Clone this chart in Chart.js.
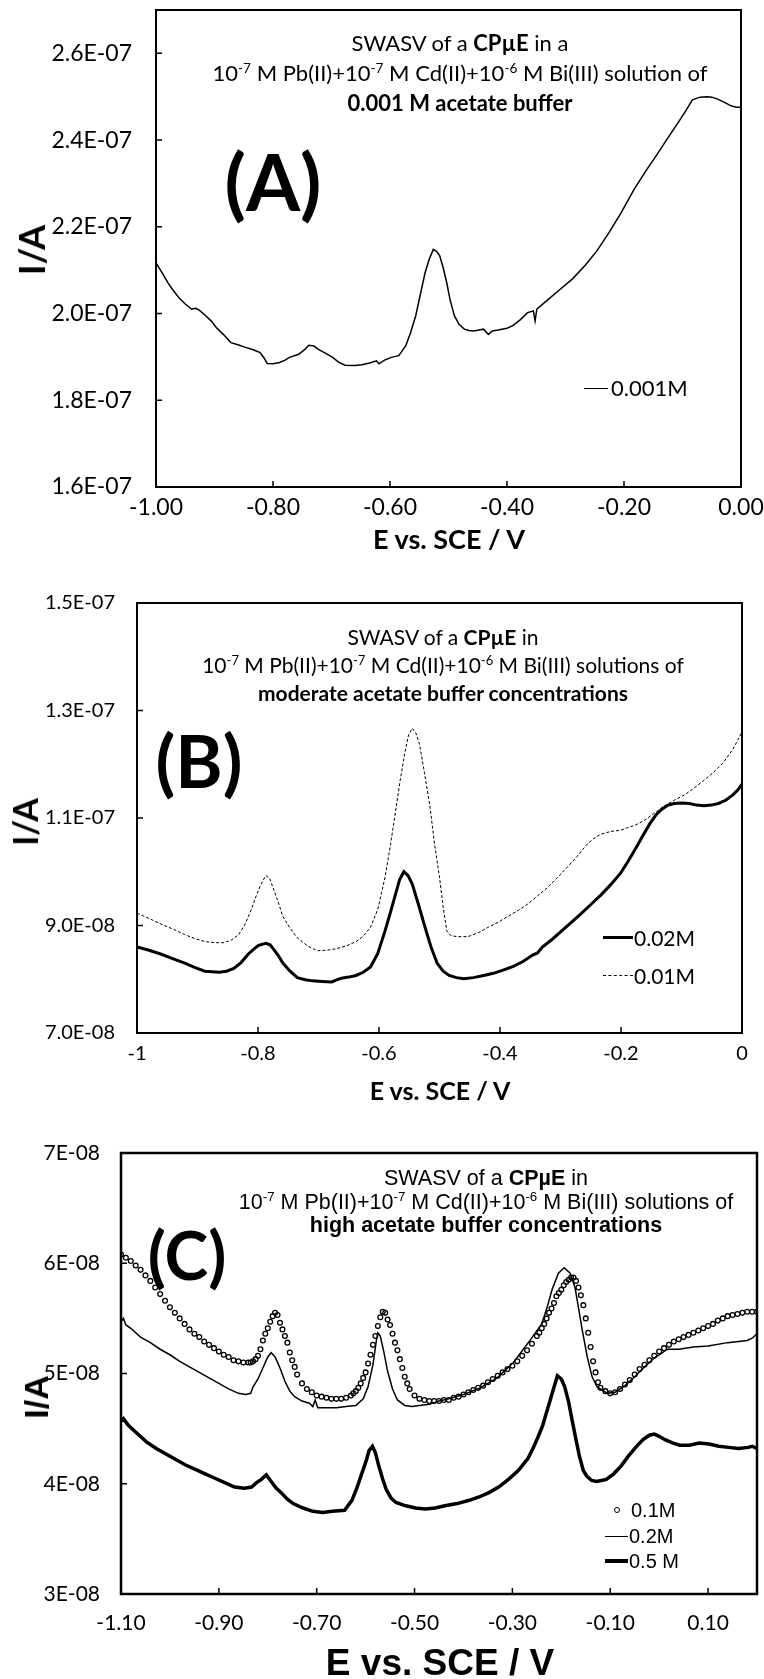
<!DOCTYPE html>
<html>
<head>
<meta charset="utf-8">
<script src="https://cdn.jsdelivr.net/npm/chart.js@4.4.1/dist/chart.umd.min.js"></script>
<style>
  body { margin: 0; background: #fff; }
  #page { position: relative; width: 764px; height: 1679px; overflow: hidden; background: #fff; }
  canvas { position: absolute; left: 0; }
  .t { position: absolute; color: #000; white-space: nowrap; line-height: 1; transform: translate(-50%, -50%); }
  .l { position: absolute; color: #000; white-space: nowrap; line-height: 1; transform: translateY(-50%); }
  .rot { transform: translate(-50%, -50%) rotate(-90deg); }
  .note { position: absolute; color: #000; white-space: nowrap; text-align: center; transform: translateX(-50%); }
  .note sup { font-size: 62%; line-height: 0; vertical-align: 0.6em; }
  .cal { font-family: Lato, "Noto Sans", sans-serif; }
  .ari { font-family: "Liberation Sans", Arial, sans-serif; }
  .sw { position: absolute; border-top: 1.5px solid #000; }
</style>
</head>
<body>
<div id="page">
  <canvas id="chartA" width="764" height="560" style="top:0"></canvas>
  <canvas id="chartB" width="764" height="560" style="top:560px"></canvas>
  <canvas id="chartC" width="764" height="559" style="top:1120px"></canvas>

  <!-- panel A -->
  <div class="note cal" style="left:460px; top:28px; font-size:22px; line-height:30px">
    SWASV of a <b>CPµE</b> in a<br>
    10<sup>-7</sup> M Pb(II)+10<sup>-7</sup> M Cd(II)+10<sup>-6</sup> M Bi(III) solution of<br>
    <b>0.001 M acetate buffer</b>
  </div>
  <div class="t cal" style="left:273px; top:181px; font-size:78px; font-weight:bold">(A)</div>
  <div class="t cal rot" style="left:31px; top:250px; font-size:36px; font-weight:bold">I/A</div>
  <div class="t cal" style="left:449px; top:538px; font-size:27px; font-weight:bold">E vs. SCE / V</div>
  <div class="sw" style="left:584px; top:388px; width:24px"></div>
  <div class="l cal" style="left:611px; top:388px; font-size:22px">0.001M</div>

  <!-- panel B -->
  <div class="note cal" style="left:443px; top:623px; font-size:21px; line-height:28px">
    SWASV of a <b>CPµE</b> in<br>
    10<sup>-7</sup> M Pb(II)+10<sup>-7</sup> M Cd(II)+10<sup>-6</sup> M Bi(III) solutions of<br>
    <b>moderate acetate buffer concentrations</b>
  </div>
  <div class="t cal" style="left:199px; top:760px; font-size:72px; font-weight:bold">(B)</div>
  <div class="t cal rot" style="left:25px; top:822px; font-size:34px; font-weight:bold">I/A</div>
  <div class="t cal" style="left:440px; top:1090px; font-size:25px; font-weight:bold">E vs. SCE / V</div>
  <div class="sw" style="left:603px; top:936px; width:30px; border-top-width:3px"></div>
  <div class="l cal" style="left:634px; top:937px; font-size:21px">0.02M</div>
  <div class="sw" style="left:603px; top:975px; width:30px; border-top:1px dashed #000"></div>
  <div class="l cal" style="left:634px; top:975px; font-size:21px">0.01M</div>

  <!-- panel C -->
  <div class="note ari" style="left:486px; top:1167px; font-size:21.5px; line-height:23.5px">
    SWASV of a <b>CPµE</b> in<br>
    10<sup>-7</sup> M Pb(II)+10<sup>-7</sup> M Cd(II)+10<sup>-6</sup> M Bi(III) solutions of<br>
    <b>high acetate buffer concentrations</b>
  </div>
  <div class="t cal" style="left:187px; top:1255px; font-size:66px; font-weight:bold">(C)</div>
  <div class="t ari rot" style="left:36px; top:1397px; font-size:34px; font-weight:bold">I/A</div>
  <div class="t ari" style="left:440px; top:1662px; font-size:37px; font-weight:bold">E vs. SCE / V</div>
  <div style="position:absolute; left:614px; top:1507px; width:4px; height:4px; border:1.2px solid #000; border-radius:50%"></div>
  <div class="l ari" style="left:631px; top:1510px; font-size:20px">0.1M</div>
  <div class="sw" style="left:605px; top:1536px; width:23px"></div>
  <div class="l ari" style="left:629px; top:1536px; font-size:20px">0.2M</div>
  <div class="sw" style="left:605px; top:1559px; width:23px; border-top-width:4px"></div>
  <div class="l ari" style="left:629px; top:1561px; font-size:20px">0.5 M</div>
</div>

<script>
// ---- (A) 0.001 M acetate buffer ----
const potA = [-1.000, -0.990, -0.980, -0.972, -0.960, -0.950, -0.939, -0.932, -0.926, -0.915,
  -0.905, -0.897, -0.885, -0.872, -0.860, -0.847, -0.835, -0.822, -0.815, -0.810,
  -0.800, -0.789, -0.780, -0.772, -0.756, -0.745, -0.739, -0.730, -0.723, -0.710,
  -0.698, -0.688, -0.677, -0.660, -0.648, -0.635, -0.623, -0.619, -0.610, -0.598,
  -0.585, -0.573, -0.565, -0.556, -0.548, -0.540, -0.533, -0.526, -0.520, -0.515,
  -0.509, -0.503, -0.497, -0.490, -0.482, -0.473, -0.465, -0.457, -0.448, -0.440,
  -0.436, -0.432, -0.425, -0.415, -0.400, -0.390, -0.377, -0.365, -0.358, -0.355,
  -0.352, -0.349, -0.330, -0.309, -0.288, -0.267, -0.246, -0.226, -0.205, -0.183,
  -0.162, -0.142, -0.125, -0.108, -0.095, -0.083, -0.070, -0.058, -0.050, -0.041,
  -0.030, -0.017, -0.008, 0.000];
const curA = [2.117e-7, 2.095e-7, 2.072e-7, 2.056e-7, 2.035e-7, 2.022e-7, 2.010e-7, 2.012e-7, 2.008e-7, 1.995e-7,
  1.982e-7, 1.968e-7, 1.952e-7, 1.933e-7, 1.928e-7, 1.922e-7, 1.917e-7, 1.910e-7, 1.897e-7, 1.885e-7,
  1.884e-7, 1.887e-7, 1.892e-7, 1.899e-7, 1.906e-7, 1.918e-7, 1.927e-7, 1.925e-7, 1.918e-7, 1.908e-7,
  1.899e-7, 1.888e-7, 1.881e-7, 1.880e-7, 1.882e-7, 1.886e-7, 1.891e-7, 1.884e-7, 1.892e-7, 1.899e-7,
  1.903e-7, 1.926e-7, 1.955e-7, 1.995e-7, 2.045e-7, 2.094e-7, 2.125e-7, 2.148e-7, 2.143e-7, 2.133e-7,
  2.105e-7, 2.071e-7, 2.030e-7, 1.995e-7, 1.975e-7, 1.964e-7, 1.961e-7, 1.960e-7, 1.962e-7, 1.964e-7,
  1.958e-7, 1.952e-7, 1.960e-7, 1.962e-7, 1.966e-7, 1.972e-7, 1.986e-7, 2.002e-7, 2.005e-7, 2.006e-7,
  1.983e-7, 2.010e-7, 2.032e-7, 2.056e-7, 2.080e-7, 2.110e-7, 2.145e-7, 2.186e-7, 2.232e-7, 2.286e-7,
  2.330e-7, 2.370e-7, 2.405e-7, 2.439e-7, 2.466e-7, 2.493e-7, 2.499e-7, 2.500e-7, 2.499e-7, 2.495e-7,
  2.488e-7, 2.479e-7, 2.476e-7, 2.476e-7];

// ---- (B) 0.02 M and 0.01 M ----
const potB002 = [-1.000, -0.980, -0.961, -0.940, -0.921, -0.905, -0.888, -0.864, -0.852, -0.840,
  -0.828, -0.816, -0.806, -0.799, -0.787, -0.780, -0.775, -0.767, -0.759, -0.747,
  -0.735, -0.722, -0.710, -0.694, -0.678, -0.670, -0.662, -0.650, -0.638, -0.626,
  -0.614, -0.602, -0.590, -0.581, -0.573, -0.566, -0.559, -0.552, -0.545, -0.535,
  -0.524, -0.514, -0.504, -0.494, -0.484, -0.472, -0.460, -0.444, -0.427, -0.411,
  -0.395, -0.378, -0.362, -0.346, -0.338, -0.330, -0.314, -0.298, -0.282, -0.265,
  -0.249, -0.233, -0.217, -0.201, -0.189, -0.176, -0.164, -0.152, -0.142, -0.132,
  -0.122, -0.112, -0.100, -0.087, -0.075, -0.063, -0.051, -0.039, -0.027, -0.015,
  -0.007, 0.000];
const curB002 = [8.60e-8, 8.54e-8, 8.47e-8, 8.38e-8, 8.30e-8, 8.22e-8, 8.15e-8, 8.13e-8, 8.15e-8, 8.20e-8,
  8.31e-8, 8.47e-8, 8.57e-8, 8.63e-8, 8.67e-8, 8.64e-8, 8.57e-8, 8.45e-8, 8.30e-8, 8.15e-8,
  8.03e-8, 7.99e-8, 7.97e-8, 7.96e-8, 7.95e-8, 7.99e-8, 8.02e-8, 8.04e-8, 8.07e-8, 8.13e-8,
  8.23e-8, 8.48e-8, 8.90e-8, 9.25e-8, 9.57e-8, 9.85e-8, 10.00e-8, 9.93e-8, 9.77e-8, 9.40e-8,
  8.97e-8, 8.60e-8, 8.30e-8, 8.15e-8, 8.07e-8, 8.03e-8, 8.01e-8, 8.03e-8, 8.07e-8, 8.11e-8,
  8.17e-8, 8.24e-8, 8.33e-8, 8.45e-8, 8.49e-8, 8.60e-8, 8.74e-8, 8.90e-8, 9.06e-8, 9.23e-8,
  9.40e-8, 9.57e-8, 9.76e-8, 9.97e-8, 10.18e-8, 10.43e-8, 10.67e-8, 10.90e-8, 11.06e-8, 11.17e-8,
  11.24e-8, 11.27e-8, 11.28e-8, 11.27e-8, 11.24e-8, 11.23e-8, 11.24e-8, 11.27e-8, 11.33e-8, 11.43e-8,
  11.52e-8, 11.63e-8];
const potB001 = [-1.000, -0.980, -0.961, -0.940, -0.921, -0.905, -0.888, -0.870, -0.856, -0.844,
  -0.832, -0.821, -0.811, -0.803, -0.795, -0.787, -0.781, -0.775, -0.767, -0.759,
  -0.747, -0.735, -0.718, -0.702, -0.686, -0.670, -0.654, -0.638, -0.626, -0.614,
  -0.602, -0.590, -0.581, -0.573, -0.565, -0.557, -0.551, -0.545, -0.539, -0.533,
  -0.525, -0.516, -0.508, -0.500, -0.494, -0.488, -0.482, -0.476, -0.463, -0.451,
  -0.435, -0.419, -0.403, -0.387, -0.370, -0.354, -0.338, -0.322, -0.306, -0.290,
  -0.273, -0.257, -0.245, -0.233, -0.217, -0.201, -0.189, -0.176, -0.164, -0.152,
  -0.140, -0.128, -0.112, -0.095, -0.079, -0.063, -0.047, -0.031, -0.015, 0.000];
const curB001 = [9.23e-8, 9.13e-8, 9.03e-8, 8.93e-8, 8.83e-8, 8.76e-8, 8.70e-8, 8.68e-8, 8.68e-8, 8.73e-8,
  8.83e-8, 9.03e-8, 9.30e-8, 9.55e-8, 9.77e-8, 9.93e-8, 9.88e-8, 9.70e-8, 9.45e-8, 9.17e-8,
  8.95e-8, 8.77e-8, 8.62e-8, 8.53e-8, 8.54e-8, 8.57e-8, 8.62e-8, 8.70e-8, 8.80e-8, 8.97e-8,
  9.30e-8, 9.90e-8, 10.50e-8, 11.10e-8, 11.70e-8, 12.23e-8, 12.55e-8, 12.67e-8, 12.58e-8, 12.37e-8,
  11.85e-8, 11.23e-8, 10.50e-8, 9.90e-8, 9.35e-8, 8.90e-8, 8.82e-8, 8.80e-8, 8.79e-8, 8.80e-8,
  8.87e-8, 8.97e-8, 9.06e-8, 9.17e-8, 9.28e-8, 9.40e-8, 9.55e-8, 9.70e-8, 9.88e-8, 10.07e-8,
  10.28e-8, 10.50e-8, 10.62e-8, 10.70e-8, 10.75e-8, 10.77e-8, 10.82e-8, 10.87e-8, 10.94e-8, 11.03e-8,
  11.13e-8, 11.23e-8, 11.33e-8, 11.43e-8, 11.56e-8, 11.70e-8, 11.85e-8, 12.03e-8, 12.28e-8, 12.60e-8];

// ---- (C) 0.1 M (markers), 0.2 M, 0.5 M ----
const potC01 = [-1.10, -1.09, -1.08, -1.07, -1.06, -1.05, -1.04, -1.03, -1.02, -1.01,
  -1.00, -0.99, -0.98, -0.97, -0.96, -0.95, -0.94, -0.93, -0.92, -0.91,
  -0.90, -0.89, -0.88, -0.87, -0.86, -0.85, -0.84, -0.835, -0.83, -0.825,
  -0.82, -0.815, -0.81, -0.805, -0.80, -0.795, -0.79, -0.785, -0.78, -0.775,
  -0.77, -0.765, -0.76, -0.755, -0.75, -0.745, -0.74, -0.73, -0.72, -0.71,
  -0.70, -0.69, -0.68, -0.67, -0.66, -0.65, -0.64, -0.63, -0.625, -0.62,
  -0.615, -0.61, -0.605, -0.60, -0.595, -0.59, -0.585, -0.58, -0.575, -0.57,
  -0.565, -0.56, -0.555, -0.55, -0.545, -0.54, -0.535, -0.53, -0.525, -0.52,
  -0.515, -0.51, -0.50, -0.49, -0.48, -0.47, -0.46, -0.45, -0.44, -0.43,
  -0.42, -0.41, -0.40, -0.39, -0.38, -0.37, -0.36, -0.35, -0.34, -0.33,
  -0.32, -0.31, -0.30, -0.29, -0.28, -0.27, -0.26, -0.25, -0.245, -0.24,
  -0.235, -0.23, -0.225, -0.22, -0.215, -0.21, -0.205, -0.20, -0.195, -0.19,
  -0.185, -0.18, -0.175, -0.17, -0.165, -0.16, -0.155, -0.15, -0.145, -0.14,
  -0.135, -0.13, -0.125, -0.12, -0.11, -0.10, -0.09, -0.08, -0.07, -0.06,
  -0.05, -0.04, -0.03, -0.02, -0.01, 0.00, 0.01, 0.02, 0.03, 0.04,
  0.05, 0.06, 0.07, 0.08, 0.09, 0.10, 0.11, 0.12, 0.13, 0.14,
  0.15, 0.16, 0.17, 0.18, 0.19, 0.20];
const curC01 = [6.08e-8, 6.05e-8, 6.02e-8, 5.98e-8, 5.94e-8, 5.89e-8, 5.84e-8, 5.78e-8, 5.72e-8, 5.66e-8,
  5.60e-8, 5.55e-8, 5.50e-8, 5.45e-8, 5.40e-8, 5.36e-8, 5.33e-8, 5.29e-8, 5.26e-8, 5.23e-8,
  5.20e-8, 5.17e-8, 5.15e-8, 5.12e-8, 5.11e-8, 5.10e-8, 5.10e-8, 5.10e-8, 5.11e-8, 5.13e-8,
  5.16e-8, 5.22e-8, 5.30e-8, 5.36e-8, 5.41e-8, 5.47e-8, 5.52e-8, 5.55e-8, 5.53e-8, 5.46e-8,
  5.40e-8, 5.34e-8, 5.28e-8, 5.19e-8, 5.12e-8, 5.06e-8, 4.99e-8, 4.91e-8, 4.86e-8, 4.83e-8,
  4.80e-8, 4.79e-8, 4.78e-8, 4.77e-8, 4.77e-8, 4.77e-8, 4.78e-8, 4.80e-8, 4.82e-8, 4.84e-8,
  4.87e-8, 4.91e-8, 4.96e-8, 5.01e-8, 5.09e-8, 5.17e-8, 5.26e-8, 5.34e-8, 5.43e-8, 5.51e-8,
  5.56e-8, 5.55e-8, 5.49e-8, 5.44e-8, 5.36e-8, 5.28e-8, 5.21e-8, 5.13e-8, 5.05e-8, 4.97e-8,
  4.91e-8, 4.86e-8, 4.80e-8, 4.77e-8, 4.76e-8, 4.75e-8, 4.75e-8, 4.75e-8, 4.76e-8, 4.76e-8,
  4.78e-8, 4.79e-8, 4.81e-8, 4.83e-8, 4.85e-8, 4.87e-8, 4.89e-8, 4.92e-8, 4.95e-8, 4.98e-8,
  5.01e-8, 5.04e-8, 5.07e-8, 5.11e-8, 5.16e-8, 5.21e-8, 5.27e-8, 5.34e-8, 5.37e-8, 5.41e-8,
  5.45e-8, 5.50e-8, 5.55e-8, 5.59e-8, 5.64e-8, 5.70e-8, 5.73e-8, 5.76e-8, 5.80e-8, 5.83e-8,
  5.85e-8, 5.87e-8, 5.87e-8, 5.84e-8, 5.78e-8, 5.71e-8, 5.62e-8, 5.50e-8, 5.37e-8, 5.24e-8,
  5.11e-8, 5.01e-8, 4.92e-8, 4.87e-8, 4.84e-8, 4.82e-8, 4.83e-8, 4.86e-8, 4.90e-8, 4.94e-8,
  4.99e-8, 5.04e-8, 5.08e-8, 5.12e-8, 5.16e-8, 5.20e-8, 5.23e-8, 5.26e-8, 5.29e-8, 5.31e-8,
  5.33e-8, 5.35e-8, 5.37e-8, 5.39e-8, 5.41e-8, 5.43e-8, 5.45e-8, 5.48e-8, 5.50e-8, 5.52e-8,
  5.53e-8, 5.54e-8, 5.55e-8, 5.56e-8, 5.56e-8, 5.56e-8];
const potC02 = [-1.100, -1.095, -1.090, -1.080, -1.060, -1.040, -1.020, -1.000, -0.980, -0.960,
  -0.940, -0.920, -0.900, -0.880, -0.860, -0.845, -0.835, -0.830, -0.820, -0.810,
  -0.800, -0.793, -0.785, -0.775, -0.765, -0.755, -0.745, -0.730, -0.715, -0.708,
  -0.703, -0.698, -0.680, -0.660, -0.640, -0.620, -0.605, -0.595, -0.585, -0.578,
  -0.575, -0.570, -0.563, -0.555, -0.545, -0.535, -0.520, -0.505, -0.490, -0.470,
  -0.450, -0.430, -0.400, -0.366, -0.331, -0.298, -0.264, -0.240, -0.229, -0.219,
  -0.206, -0.194, -0.182, -0.172, -0.165, -0.157, -0.147, -0.137, -0.127, -0.106,
  -0.090, -0.070, -0.050, -0.030, -0.010, 0.017, 0.040, 0.070, 0.100, 0.140,
  0.180, 0.190, 0.200];
const curC02 = [5.47e-8, 5.50e-8, 5.44e-8, 5.41e-8, 5.33e-8, 5.28e-8, 5.22e-8, 5.17e-8, 5.11e-8, 5.06e-8,
  5.01e-8, 4.96e-8, 4.91e-8, 4.86e-8, 4.82e-8, 4.81e-8, 4.82e-8, 4.88e-8, 4.95e-8, 5.05e-8,
  5.15e-8, 5.19e-8, 5.15e-8, 5.05e-8, 4.93e-8, 4.84e-8, 4.79e-8, 4.75e-8, 4.73e-8, 4.70e-8,
  4.76e-8, 4.69e-8, 4.69e-8, 4.69e-8, 4.70e-8, 4.71e-8, 4.77e-8, 4.88e-8, 5.08e-8, 5.30e-8,
  5.37e-8, 5.34e-8, 5.20e-8, 5.02e-8, 4.86e-8, 4.76e-8, 4.71e-8, 4.70e-8, 4.71e-8, 4.72e-8,
  4.75e-8, 4.77e-8, 4.81e-8, 4.87e-8, 4.96e-8, 5.10e-8, 5.30e-8, 5.45e-8, 5.60e-8, 5.76e-8,
  5.91e-8, 5.96e-8, 5.91e-8, 5.78e-8, 5.60e-8, 5.39e-8, 5.15e-8, 4.97e-8, 4.88e-8, 4.82e-8,
  4.83e-8, 4.89e-8, 4.97e-8, 5.06e-8, 5.14e-8, 5.22e-8, 5.22e-8, 5.24e-8, 5.25e-8, 5.28e-8,
  5.30e-8, 5.32e-8, 5.36e-8];
const potC05 = [-1.100, -1.095, -1.085, -1.068, -1.048, -1.028, -1.008, -0.988, -0.968, -0.948,
  -0.928, -0.908, -0.888, -0.868, -0.848, -0.833, -0.823, -0.813, -0.803, -0.793,
  -0.783, -0.773, -0.760, -0.748, -0.728, -0.708, -0.688, -0.668, -0.643, -0.628,
  -0.618, -0.608, -0.598, -0.593, -0.586, -0.580, -0.573, -0.565, -0.558, -0.548,
  -0.538, -0.518, -0.498, -0.478, -0.458, -0.438, -0.413, -0.388, -0.368, -0.348,
  -0.328, -0.308, -0.288, -0.268, -0.258, -0.248, -0.238, -0.228, -0.218, -0.208,
  -0.200, -0.193, -0.185, -0.178, -0.170, -0.163, -0.155, -0.148, -0.138, -0.128,
  -0.118, -0.108, -0.093, -0.078, -0.063, -0.048, -0.033, -0.020, -0.010, 0.000,
  0.012, 0.027, 0.042, 0.062, 0.082, 0.102, 0.122, 0.142, 0.162, 0.182,
  0.190, 0.200];
const curC05 = [4.57e-8, 4.59e-8, 4.53e-8, 4.46e-8, 4.38e-8, 4.32e-8, 4.27e-8, 4.22e-8, 4.17e-8, 4.13e-8,
  4.09e-8, 4.05e-8, 4.01e-8, 3.97e-8, 3.96e-8, 3.97e-8, 4.01e-8, 4.04e-8, 4.08e-8, 4.02e-8,
  3.96e-8, 3.92e-8, 3.86e-8, 3.82e-8, 3.78e-8, 3.75e-8, 3.74e-8, 3.75e-8, 3.76e-8, 3.85e-8,
  3.96e-8, 4.09e-8, 4.22e-8, 4.30e-8, 4.34e-8, 4.28e-8, 4.16e-8, 4.04e-8, 3.95e-8, 3.87e-8,
  3.83e-8, 3.80e-8, 3.78e-8, 3.77e-8, 3.78e-8, 3.80e-8, 3.82e-8, 3.85e-8, 3.88e-8, 3.92e-8,
  3.97e-8, 4.04e-8, 4.12e-8, 4.23e-8, 4.32e-8, 4.42e-8, 4.53e-8, 4.68e-8, 4.83e-8, 4.98e-8,
  4.95e-8, 4.88e-8, 4.74e-8, 4.58e-8, 4.40e-8, 4.25e-8, 4.12e-8, 4.07e-8, 4.03e-8, 4.02e-8,
  4.03e-8, 4.04e-8, 4.09e-8, 4.16e-8, 4.25e-8, 4.33e-8, 4.40e-8, 4.44e-8, 4.45e-8, 4.43e-8,
  4.40e-8, 4.37e-8, 4.35e-8, 4.35e-8, 4.37e-8, 4.36e-8, 4.34e-8, 4.33e-8, 4.32e-8, 4.33e-8,
  4.34e-8, 4.32e-8];

// ---- axis ticks ----
const xTicksA = [-1.0, -0.8, -0.6, -0.4, -0.2, 0.0];
const xLabelsA = ['-1.00', '-0.80', '-0.60', '-0.40', '-0.20', '0.00'];
const yTicksA = [1.6e-7, 1.8e-7, 2.0e-7, 2.2e-7, 2.4e-7, 2.6e-7];
const yLabelsA = ['1.6E-07', '1.8E-07', '2.0E-07', '2.2E-07', '2.4E-07', '2.6E-07'];
const xTicksB = [-1.0, -0.8, -0.6, -0.4, -0.2, 0.0];
const xLabelsB = ['-1', '-0.8', '-0.6', '-0.4', '-0.2', '0'];
const yTicksB = [7e-8, 9e-8, 1.1e-7, 1.3e-7, 1.5e-7];
const yLabelsB = ['7.0E-08', '9.0E-08', '1.1E-07', '1.3E-07', '1.5E-07'];
const xTicksC = [-1.1, -0.9, -0.7, -0.5, -0.3, -0.1, 0.1];
const xLabelsC = ['-1.10', '-0.90', '-0.70', '-0.50', '-0.30', '-0.10', '0.10'];
const yTicksC = [3e-8, 4e-8, 5e-8, 6e-8, 7e-8];
const yLabelsC = ['3E-08', '4E-08', '5E-08', '6E-08', '7E-08'];

Chart.defaults.font.family = 'Lato';
Chart.defaults.color = '#000';

const pts = (xs, ys) => xs.map((x, i) => ({ x: x, y: ys[i] }));
const line = (label, xs, ys, w, dash) => ({
  label: label, data: pts(xs, ys), showLine: true, pointRadius: 0,
  borderColor: '#000', borderWidth: w, borderDash: dash || [], tension: 0
});

// box round the plot + short inward tick marks
const framePlugin = {
  id: 'frame',
  afterDatasetsDraw(chart, args, opts) {
    const { ctx, chartArea: a, scales } = chart;
    ctx.save();
    ctx.strokeStyle = '#000';
    ctx.lineWidth = opts.width;
    ctx.strokeRect(a.left, a.top, a.right - a.left, a.bottom - a.top);
    ctx.lineWidth = 1.5;
    ctx.beginPath();
    scales.x.ticks.forEach(t => {
      const px = scales.x.getPixelForValue(t.value);
      ctx.moveTo(px, a.bottom);
      ctx.lineTo(px, a.bottom - 6);
    });
    scales.y.ticks.forEach(t => {
      const py = scales.y.getPixelForValue(t.value);
      ctx.moveTo(a.left, py);
      ctx.lineTo(a.left + 6, py);
    });
    ctx.stroke();
    ctx.restore();
  }
};

// fixed axis boxes, no extra label overflow padding, so the plot area lands where we want
function fixBox(prop, size) {
  return s => {
    s[prop] = size;
    s.paddingTop = s.paddingBottom = s.paddingLeft = s.paddingRight = 0;
  };
}

function makePanel(id, p) {
  return new Chart(document.getElementById(id), {
    type: 'scatter',
    data: { datasets: p.sets },
    options: {
      responsive: false,
      animation: false,
      devicePixelRatio: 1,
      layout: { padding: { left: 0, right: p.right, top: p.top, bottom: 0 } },
      plugins: { legend: { display: false }, tooltip: { enabled: false }, frame: { width: p.frame } },
      scales: {
        x: {
          type: 'linear', min: p.xMin, max: p.xMax,
          afterBuildTicks: s => { s.ticks = p.xTicks.map(v => ({ value: v })); },
          afterFit: fixBox('height', p.xH),
          grid: { display: false, drawTicks: false },
          border: { display: false },
          ticks: { autoSkip: false, maxRotation: 0, padding: p.xPad, font: { size: p.font }, callback: (v, i) => p.xLabels[i] }
        },
        y: {
          type: 'linear', min: p.yMin, max: p.yMax,
          afterBuildTicks: s => { s.ticks = p.yTicks.map(v => ({ value: v })); },
          afterFit: fixBox('width', p.left),
          grid: { display: false, drawTicks: false },
          border: { display: false },
          ticks: { autoSkip: false, padding: p.yPad, font: { size: p.font }, callback: (v, i) => p.yLabels[i] }
        }
      }
    },
    plugins: [framePlugin]
  });
}

makePanel('chartA', {
  sets: [line('0.001M', potA, curA, 1.5)],
  xMin: -1, xMax: 0, yMin: 1.6e-7, yMax: 2.7e-7,
  xTicks: xTicksA, xLabels: xLabelsA, yTicks: yTicksA, yLabels: yLabelsA,
  left: 156, right: 23, top: 10, xH: 73, xPad: 7, yPad: 24, font: 23, frame: 2
});

makePanel('chartB', {
  sets: [line('0.02M', potB002, curB002, 3), line('0.01M', potB001, curB001, 1, [3, 2])],
  xMin: -1, xMax: 0, yMin: 7e-8, yMax: 1.5e-7,
  xTicks: xTicksB, xLabels: xLabelsB, yTicks: yTicksB, yLabels: yLabelsB,
  left: 137, right: 22, top: 43, xH: 87, xPad: 9, yPad: 22, font: 20, frame: 2
});

makePanel('chartC', {
  sets: [
    { label: '0.1M', data: pts(potC01, curC01), showLine: false, pointStyle: 'circle',
      pointRadius: 2.4, pointBorderWidth: 1.3, pointBorderColor: '#000', pointBackgroundColor: 'rgba(0,0,0,0)' },
    line('0.2M', potC02, curC02, 1.5),
    line('0.5 M', potC05, curC05, 3.5)
  ],
  xMin: -1.1, xMax: 0.2, yMin: 3e-8, yMax: 7e-8,
  xTicks: xTicksC, xLabels: xLabelsC, yTicks: yTicksC, yLabels: yLabelsC,
  left: 121, right: 7, top: 33, xH: 85, xPad: 17, yPad: 21, font: 21, frame: 2.5
});
</script>
</body>
</html>
